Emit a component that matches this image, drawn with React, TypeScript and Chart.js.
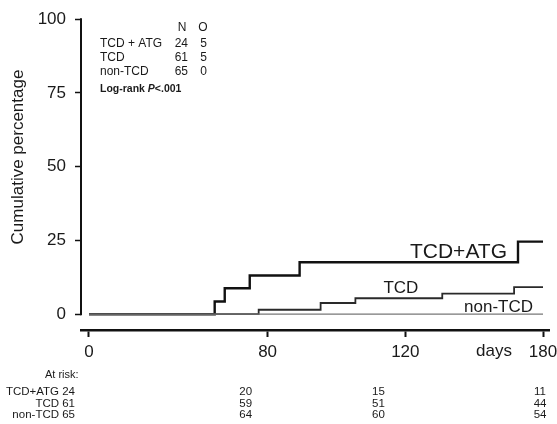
import React, { useEffect, useRef } from "react";
import { Chart, registerables } from "chart.js";

Chart.register(...registerables);

// ---- data ----
const tickDays = [0, 80, 120, 180];
const tickLabels = ["0", "80", "120", "180"];
// axis breakpoints: the printed axis is not linear in days
const axisUnits = [0, 179, 317, 455];

const atgDays = [0, 56.3, 60.8, 72, 89.3, 169.1, 180];
const atgPct = [0, 4.3, 8.8, 13.1, 17.6, 24.6, 24.6];
const tcdDays = [0, 76, 95.4, 105.5, 136.1, 167.4, 180];
const tcdPct = [0, 1.5, 3.8, 5.4, 7.0, 9.2, 9.2];
const nonDays = [0, 180];
const nonPct = [0, 0];

const yTicks = [0, 25, 50, 75, 100];

const groupNames = ["TCD + ATG", "TCD", "non-TCD"];
const groupN = [24, 61, 65];
const groupO = [5, 5, 0];

const riskNames = ["TCD+ATG", "TCD", "non-TCD"];
const riskDay0 = [24, 61, 65];
const riskDay80 = [20, 59, 64];
const riskDay120 = [15, 51, 60];
const riskDay180 = [11, 44, 54];
// where each at-risk column is printed, in days along the axis
const riskColDays = [70.2, 112.2, 178.7];

const curveNames = ["TCD+ATG", "TCD", "non-TCD"];

const FONT = '"Liberation Sans", Arial, Helvetica, sans-serif';

function dayToUnit(d: number): number {
  for (let i = 1; i < tickDays.length; i++) {
    if (d <= tickDays[i] || i === tickDays.length - 1) {
      const d0 = tickDays[i - 1], d1 = tickDays[i];
      const u0 = axisUnits[i - 1], u1 = axisUnits[i];
      return u0 + ((d - d0) / (d1 - d0)) * (u1 - u0);
    }
  }
  return 0;
}

function pts(days: number[], pct: number[]) {
  return days.map((d, i) => ({ x: dayToUnit(d), y: pct[i] }));
}

export default function App() {
  const ref = useRef<HTMLCanvasElement | null>(null);

  useEffect(() => {
    if (!ref.current) return;
    const overlay = {
      id: "overlay",
      afterDraw(chart: any) {
        const ctx = chart.ctx as CanvasRenderingContext2D;
        const xs = chart.scales.x;
        const ys = chart.scales.y;
        const left = chart.chartArea.left;
        const px = (d: number) => xs.getPixelForValue(dayToUnit(d));
        ctx.save();
        // y axis line from 0 to 100
        ctx.strokeStyle = "#111";
        ctx.lineWidth = 2;
        ctx.beginPath();
        ctx.moveTo(left, ys.getPixelForValue(100) - 1);
        ctx.lineTo(left, ys.getPixelForValue(0) + 1);
        ctx.stroke();

        ctx.fillStyle = "#1a1a1a";
        // y title
        ctx.save();
        ctx.translate(18, 157);
        ctx.rotate(-Math.PI / 2);
        ctx.font = `17px ${FONT}`;
        ctx.textAlign = "center";
        ctx.textBaseline = "middle";
        ctx.fillText("Cumulative percentage", 0, 0);
        ctx.restore();

        // legend table
        ctx.font = `12px ${FONT}`;
        ctx.textBaseline = "middle";
        ctx.textAlign = "center";
        ctx.fillText("N", 182, 28);
        ctx.fillText("O", 203, 28);
        groupNames.forEach((g, i) => {
          const y = 43.5 + i * 14;
          ctx.textAlign = "left";
          ctx.fillText(g, 100, y);
          ctx.textAlign = "right";
          ctx.fillText(String(groupN[i]), 188, y);
          ctx.fillText(String(groupO[i]), 207, y);
        });
        ctx.textAlign = "left";
        ctx.font = `bold 10.5px ${FONT}`;
        const lr = "Log-rank ";
        ctx.fillText(lr, 100, 89);
        let w = ctx.measureText(lr).width;
        ctx.font = `italic bold 10.5px ${FONT}`;
        ctx.fillText("P", 100 + w, 89);
        w += ctx.measureText("P").width;
        ctx.font = `bold 10.5px ${FONT}`;
        ctx.fillText("<.001", 100 + w, 89);

        // curve labels
        ctx.textBaseline = "alphabetic";
        ctx.textAlign = "right";
        ctx.font = `21px ${FONT}`;
        ctx.fillText(curveNames[0], px(169.1) - 11, ys.getPixelForValue(19.0));
        ctx.font = `17px ${FONT}`;
        ctx.textAlign = "left";
        ctx.fillText(curveNames[1], px(105.5) + 28, ys.getPixelForValue(7.1));
        ctx.textAlign = "right";
        ctx.fillText(curveNames[2], px(180) - 10, ys.getPixelForValue(0.6));

        // "days" label
        ctx.font = `17px ${FONT}`;
        ctx.textBaseline = "middle";
        ctx.textAlign = "right";
        ctx.fillText("days", px(180) - 31, 351);

        // at-risk table
        ctx.font = `11px ${FONT}`;
        ctx.textAlign = "left";
        ctx.fillText("At risk:", 45, 375);
        ctx.font = `11.5px ${FONT}`;
        const cols = [riskDay80, riskDay120, riskDay180];
        riskNames.forEach((n, i) => {
          const y = 392 + i * 11.5;
          ctx.textAlign = "right";
          ctx.fillText(`${n} ${riskDay0[i]}`, 75, y);
          ctx.textAlign = "center";
          cols.forEach((c, j) => {
            ctx.fillText(String(c[i]), px(riskColDays[j]), y);
          });
        });
        ctx.restore();
      },
    };

    const chart = new Chart(ref.current, {
      type: "line",
      data: {
        datasets: [
          {
            label: "non-TCD",
            data: pts(nonDays, nonPct),
            borderColor: "#777",
            borderWidth: 1.3,
            pointRadius: 0,
            stepped: "before",
          },
          {
            label: "TCD",
            data: pts(tcdDays, tcdPct),
            borderColor: "#2a2a2a",
            borderWidth: 1.8,
            pointRadius: 0,
            stepped: "before",
          },
          {
            label: "TCD+ATG",
            data: pts(atgDays, atgPct),
            borderColor: "#111",
            borderWidth: 2.4,
            pointRadius: 0,
            stepped: "before",
          },
        ],
      },
      options: {
        responsive: false,
        animation: false,
        events: [],
        layout: { padding: { top: 14, right: 8, left: 0, bottom: 0 } },
        plugins: { legend: { display: false }, tooltip: { enabled: false } },
        scales: {
          x: {
            type: "linear",
            min: -8,
            max: 461,
            afterBuildTicks: (s: any) => {
              s.ticks = tickDays.map((d) => ({ value: dayToUnit(d) }));
            },
            afterFit: (s: any) => {
              s.height = 94;
              s.paddingRight = 0;
              s.paddingLeft = 0;
            },
            ticks: {
              autoSkip: false,
              maxRotation: 0,
              padding: 5,
              color: "#1a1a1a",
              font: { family: FONT, size: 17 },
              callback: (_v: any, i: number) => tickLabels[i],
            },
            grid: {
              display: true,
              drawOnChartArea: false,
              drawTicks: true,
              tickLength: 7,
              tickColor: "#111",
              tickWidth: 2,
            },
            border: { display: true, color: "#111", width: 2.5 },
          },
          y: {
            type: "linear",
            min: -5.36,
            max: 100,
            afterBuildTicks: (s: any) => {
              s.ticks = yTicks.map((v) => ({ value: v }));
            },
            afterFit: (s: any) => {
              s.width = 81;
            },
            ticks: {
              padding: 9,
              color: "#1a1a1a",
              font: { family: FONT, size: 17 },
            },
            grid: {
              display: true,
              drawOnChartArea: false,
              drawTicks: true,
              tickLength: 6,
              tickColor: "#111",
              tickWidth: 1.5,
            },
            border: { display: false },
          },
        },
      },
      plugins: [overlay],
    });
    return () => chart.destroy();
  }, []);

  return (
    <div style={{ position: "fixed", left: 0, top: 0, width: 557, height: 424, background: "#fff" }}>
      <canvas ref={ref} width={557} height={424} style={{ width: 557, height: 424, display: "block" }} />
    </div>
  );
}
